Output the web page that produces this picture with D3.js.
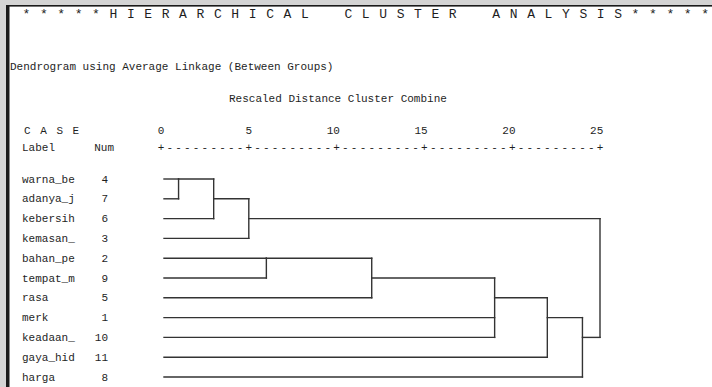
<!DOCTYPE html>
<html>
<head>
<meta charset="utf-8">
<script src="https://cdn.jsdelivr.net/npm/d3@7"></script>
<style>
  html, body { margin: 0; padding: 0; background: #d4d4d4; }
  svg { display: block; }
  text { font-family: "Liberation Mono", "Courier New", "DejaVu Sans Mono", monospace; fill: #1e1e1e; }
</style>
</head>
<body>
<svg id="chart" width="712" height="387"></svg>
<script>
// Cases in dendrogram order, with their case numbers
const caseLabels = ["warna_be", "adanya_j", "kebersih", "kemasan_", "bahan_pe", "tempat_m", "rasa", "merk", "keadaan_", "gaya_hid", "harga"];
const caseNums = [4, 7, 6, 3, 2, 9, 5, 1, 10, 11, 8];

// Agglomeration steps: members joined (cases or earlier steps "m<i>") and rescaled distance
const mergeMembers = [
  ["warna_be", "adanya_j"],
  ["m0", "kebersih"],
  ["m1", "kemasan_"],
  ["bahan_pe", "tempat_m"],
  ["m3", "rasa"],
  ["m4", "merk", "keadaan_"],
  ["m5", "gaya_hid"],
  ["m6", "harga"],
  ["m2", "m7"]
];
const mergeDistances = [1, 3, 5, 6, 12, 19, 22, 24, 25];

// Rescaled distance axis
const axisTicks = [0, 5, 10, 15, 20, 25];

const titleText = "* * * * * H I E R A R C H I C A L    C L U S T E R    A N A L Y S I S * * * * *";
const methodText = "Dendrogram using Average Linkage (Between Groups)";
const axisTitle = "Rescaled Distance Cluster Combine";

const svg = d3.select("#chart");
const W = 712, H = 387;

const x = d3.scaleLinear().domain([0, 25]).range([161, 600]);
const y = d3.scalePoint().domain(caseLabels).range([179, 377]);
const leafStart = x(0) + 3;
const fs = 11;

// white output panel
svg.append("rect").attr("x", 7).attr("y", 6).attr("width", W).attr("height", H).attr("fill", "#ffffff");

// header lines
svg.append("text").attr("x", 22.5).attr("y", 18).attr("font-size", 13)
  .attr("letter-spacing", 0.9).style("white-space", "pre").text(titleText);
svg.append("text").attr("x", 10).attr("y", 70).attr("font-size", fs).text(methodText);
svg.append("text").attr("x", 229).attr("y", 102).attr("font-size", fs).text(axisTitle);
svg.append("text").attr("x", 24).attr("y", 134).attr("font-size", fs)
  .attr("letter-spacing", 1.5).text("C A S E");
svg.append("text").attr("x", 22).attr("y", 151).attr("font-size", fs).text("Label");
svg.append("text").attr("x", 114).attr("y", 151).attr("font-size", fs)
  .attr("text-anchor", "end").text("Num");

// axis: numbers, plus signs and dashes
const axisY = 151;
svg.append("g").selectAll("text").data(axisTicks).join("text")
  .attr("x", d => x(d) + 3.3).attr("y", 134).attr("font-size", fs)
  .attr("text-anchor", "end").text(d => d);
svg.append("g").selectAll("text").data(axisTicks).join("text")
  .attr("x", d => x(d)).attr("y", axisY).attr("font-size", fs)
  .attr("text-anchor", "middle").text("+");
const dashPos = [];
axisTicks.slice(0, -1).forEach((t, i) => {
  const a = x(t), b = x(axisTicks[i + 1]);
  for (let k = 1; k < 10; k++) dashPos.push(a + (b - a) * k / 10);
});
svg.append("g").selectAll("text").data(dashPos).join("text")
  .attr("x", d => d).attr("y", axisY).attr("font-size", fs)
  .attr("text-anchor", "middle").text("-");

// case labels and numbers
const rows = svg.append("g");
rows.selectAll("text.lab").data(caseLabels).join("text").attr("class", "lab")
  .attr("x", 22).attr("y", d => y(d) + 3.5).attr("font-size", fs).text(d => d);
rows.selectAll("text.num").data(caseLabels).join("text").attr("class", "num")
  .attr("x", 108).attr("y", d => y(d) + 3.5).attr("font-size", fs)
  .attr("text-anchor", "end").text((d, i) => caseNums[i]);

// build dendrogram geometry
const nodes = {};
caseLabels.forEach((c, i) => { nodes[c] = { row: i, xStart: leafStart }; });
const segs = [];
mergeMembers.forEach((members, i) => {
  const xm = x(mergeDistances[i]);
  const kids = members.map(m => nodes[m]);
  kids.forEach(k => segs.push([k.xStart, y(caseLabels[k.row]), xm, y(caseLabels[k.row])]));
  const r0 = d3.min(kids, k => k.row), r1 = d3.max(kids, k => k.row);
  segs.push([xm, y(caseLabels[r0]), xm, y(caseLabels[r1])]);
  nodes["m" + i] = { row: Math.floor((r0 + r1) / 2), xStart: xm };
});

svg.append("g").selectAll("line").data(segs).join("line")
  .attr("x1", d => d[0]).attr("y1", d => d[1]).attr("x2", d => d[2]).attr("y2", d => d[3])
  .attr("stroke", "#333").attr("stroke-width", 1.4).attr("stroke-linecap", "square");

// panel frame
svg.append("rect").attr("x", 6).attr("y", 5).attr("width", W).attr("height", 1.6).attr("fill", "#1a1a1a");
svg.append("rect").attr("x", 6).attr("y", 5).attr("width", 3.5).attr("height", H).attr("fill", "#1a1a1a");
</script>
</body>
</html>
